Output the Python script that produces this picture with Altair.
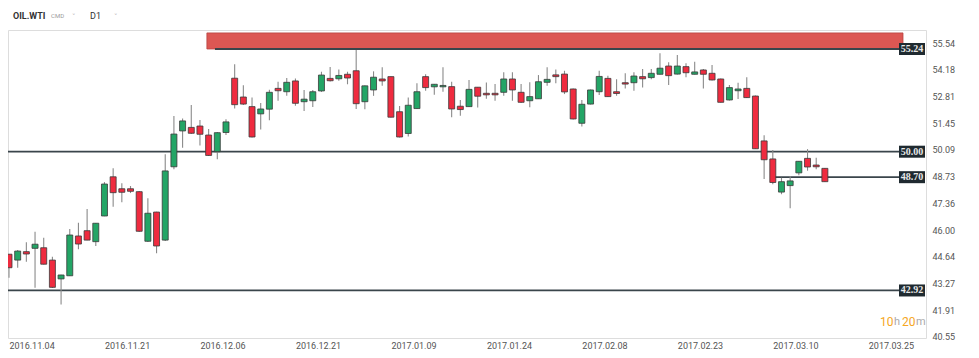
import altair as alt
import pandas as pd

# ---- data (daily OIL.WTI candles) ----
opens = [44.77, 44.47, 44.90, 45.07, 45.10, 44.47, 43.51, 43.67, 45.70, 45.97,
         45.41, 46.72, 48.72, 48.11, 48.11, 47.96, 45.43, 46.92, 45.49, 49.23,
         51.06, 51.24, 51.31, 50.85, 50.00, 50.98, 53.75, 52.79, 52.30, 51.93,
         52.17, 53.23, 53.06, 53.61, 52.55, 52.60, 53.10, 53.74, 53.72, 53.95,
         54.13, 52.55, 53.15, 53.71, 53.83, 52.04, 50.93, 52.20, 53.83, 53.31,
         53.31, 53.32, 52.32, 52.30, 53.29, 52.98, 52.98, 53.03, 53.71, 53.03,
         52.60, 52.70, 53.54, 53.92, 53.96, 53.20, 51.45, 52.43, 53.06, 53.74,
         53.06, 53.52, 53.52, 53.83, 53.78, 53.95, 54.37, 53.96, 54.34, 53.95,
         54.17, 54.00, 53.71, 52.64, 53.11, 53.23, 52.84, 50.55, 49.63, 47.94,
         48.27, 48.92, 49.66, 49.32, 49.15]
highs = [44.78, 44.98, 45.38, 45.92, 45.61, 44.64, 43.72, 46.06, 46.38, 47.08,
         46.36, 48.45, 49.15, 48.39, 48.25, 47.99, 47.62, 46.93, 49.87, 51.82,
         51.70, 52.38, 51.62, 51.16, 51.01, 51.65, 54.46, 53.39, 52.77, 52.48,
         53.16, 53.57, 53.76, 53.73, 53.15, 53.15, 54.08, 54.32, 54.20, 54.08,
         55.19, 53.38, 54.10, 54.31, 53.84, 52.33, 52.77, 53.49, 53.95, 53.45,
         54.31, 53.57, 52.64, 53.66, 53.30, 53.53, 53.45, 54.05, 54.05, 53.45,
         53.54, 53.91, 54.31, 54.20, 54.13, 53.22, 52.64, 53.17, 54.13, 53.88,
         53.69, 54.00, 54.05, 54.22, 54.22, 55.02, 54.56, 54.93, 54.51, 54.59,
         54.22, 54.42, 53.73, 53.40, 53.52, 53.80, 52.87, 50.84, 50.09, 48.67,
         48.76, 49.53, 50.13, 49.69, 49.17]
lows = [43.57, 44.08, 44.39, 43.06, 44.24, 43.05, 42.21, 43.66, 45.02, 45.48,
        45.19, 46.71, 47.19, 47.42, 47.89, 45.90, 45.39, 44.82, 45.44, 49.10,
        50.20, 50.90, 50.31, 49.78, 49.61, 50.85, 52.21, 52.38, 50.72, 51.13,
        51.60, 52.60, 52.86, 52.35, 52.08, 52.28, 53.05, 53.58, 53.62, 53.44,
        52.18, 52.17, 52.85, 53.37, 51.75, 50.72, 50.78, 52.18, 53.11, 52.91,
        53.06, 51.76, 51.83, 52.28, 52.26, 52.70, 52.60, 52.85, 52.60, 52.48,
        52.27, 52.69, 53.37, 53.49, 52.94, 51.64, 51.28, 52.41, 52.89, 52.79,
        52.86, 53.23, 53.11, 53.27, 53.69, 53.94, 53.40, 53.94, 53.80, 53.94,
        53.23, 53.63, 52.51, 52.61, 52.69, 52.74, 50.14, 48.61, 48.34, 47.83,
        47.11, 48.80, 49.03, 49.11, 48.45]
closes = [44.08, 44.93, 44.78, 45.28, 44.26, 43.08, 43.71, 45.75, 45.29, 45.49,
          46.35, 48.35, 47.91, 47.93, 47.98, 45.94, 46.86, 45.19, 49.02, 50.90,
          51.57, 50.94, 50.89, 49.81, 50.97, 51.52, 52.40, 52.43, 50.75, 52.18,
          53.03, 53.11, 53.54, 52.47, 52.68, 53.06, 53.91, 53.62, 53.89, 53.76,
          52.45, 53.36, 53.80, 53.61, 51.76, 50.75, 52.37, 53.06, 53.27, 53.44,
          53.38, 52.18, 52.15, 53.18, 52.83, 52.90, 52.90, 53.71, 53.15, 52.52,
          52.81, 53.57, 53.69, 53.83, 53.05, 51.67, 52.42, 53.15, 53.84, 52.81,
          52.97, 53.45, 53.86, 53.72, 54.00, 54.26, 53.88, 54.37, 54.03, 54.07,
          53.95, 53.66, 52.52, 53.27, 53.20, 52.76, 50.15, 49.59, 48.43, 48.47,
          48.51, 49.51, 49.22, 49.23, 48.47]

date_labels = ["2016.11.04", "2016.11.21", "2016.12.06", "2016.12.21", "2017.01.09",
               "2017.01.24", "2017.02.08", "2017.02.23", "2017.03.10", "2017.03.25"]
date_label_index = [1, 12, 23, 34, 45, 56, 67, 78, 89, 100]
price_ticks = [40.55, 41.91, 43.27, 44.64, 46.00, 47.36, 48.73, 50.09,
               51.45, 52.81, 54.18, 55.54]

levels = [55.24, 50.00, 48.70, 42.92]
level_start = [24.73, 0.885, 89.0, 0.885]

zone_low = [55.24]
zone_high = [56.06]
zone_start = [23.8]
zone_end = [104.0]

# ---- tables ----
n = len(opens)
candles = pd.DataFrame({
    "idx": list(range(1, n + 1)),
    "open": opens, "high": highs, "low": lows, "close": closes,
})
candles["dir"] = ["up" if c >= o else "down" for o, c in zip(opens, closes)]

lev = pd.DataFrame({"level": levels, "start": level_start})
zone = pd.DataFrame({"low": zone_low, "high": zone_high, "start": zone_start, "end": zone_end})

X_DOMAIN = [0.885, 106.65]
Y_DOMAIN = [40.495, 56.209]
W, H = 918, 308

xscale = alt.Scale(domain=X_DOMAIN, nice=False, zero=False, padding=0)
yscale = alt.Scale(domain=Y_DOMAIN, nice=False, zero=False, padding=0)

label_expr = " : ".join(
    f"datum.value == {i} ? '{d}'" for i, d in zip(date_label_index, date_labels)
) + " : ''"

FONT = "Roboto"

xaxis = alt.Axis(values=date_label_index, labelExpr=label_expr, labelAlign="left",
                 labelFontSize=9, labelColor="#555555", labelFont=FONT,
                 ticks=False, domain=False, grid=False, labelPadding=3, title=None,
                 labelOverlap=False, labelFlush=False)
yaxis = alt.Axis(values=price_ticks, format=".2f", orient="right",
                 labelFontSize=9, labelColor="#555555", labelFont=FONT,
                 ticks=False, domain=False, grid=False, labelPadding=6, title=None,
                 labelOverlap=False, labelFlush=False)

base = alt.Chart(candles)

zone_layer = alt.Chart(zone).mark_rect(color="#dc5753", stroke="#b84440", strokeWidth=0.8).encode(
    x=alt.X("start:Q", scale=xscale, axis=xaxis),
    x2="end:Q",
    y=alt.Y("low:Q", scale=yscale, axis=yaxis),
    y2="high:Q",
)

level_lines = alt.Chart(lev).mark_rule(color="#3a454b", strokeWidth=1.8).encode(
    x=alt.X("start:Q", scale=xscale, axis=xaxis),
    x2=alt.value(891),
    y=alt.Y("level:Q", scale=yscale, axis=yaxis),
)

wicks = base.mark_rule(color="#8a8a8a", strokeWidth=1.1).encode(
    x=alt.X("idx:Q", scale=xscale, axis=xaxis),
    y=alt.Y("low:Q", scale=yscale, axis=yaxis),
    y2="high:Q",
)

bodies = base.mark_bar(size=6, stroke="#3a3a3a", strokeWidth=0.8).encode(
    x=alt.X("idx:Q", scale=xscale, axis=xaxis),
    y=alt.Y("open:Q", scale=yscale, axis=yaxis),
    y2="close:Q",
    color=alt.Color("dir:N", scale=alt.Scale(domain=["up", "down"],
                                             range=["#23a566", "#ef2b3f"]), legend=None),
)

label_boxes = alt.Chart(lev).mark_rect(color="#1f2a30", yOffset=-6, y2Offset=6).encode(
    x=alt.value(891), x2=alt.value(917),
    y=alt.Y("level:Q", scale=yscale, axis=yaxis), y2="level:Q",
)
label_text = alt.Chart(lev).mark_text(color="#e8e8e8", font="Liberation Serif",
                                      fontWeight="bold", fontSize=10, align="center",
                                      baseline="middle").encode(
    x=alt.value(904), y=alt.Y("level:Q", scale=yscale, axis=yaxis),
    text=alt.Text("level:Q", format=".2f"),
)

def txt(s, x, y, size, color, weight="normal", font=FONT):
    return alt.Chart(pd.DataFrame({"t": [s]})).mark_text(
        align="left", baseline="middle", fontSize=size, color=color,
        fontWeight=weight, font=font).encode(
        x=alt.value(x), y=alt.value(y), text="t:N")

header = [
    txt("OIL.WTI", 5, -14, 9, "#333333", "bold"),
    txt("CMD", 43, -14, 6, "#9a9a9a"),
    txt("˅", 64, -13, 7, "#b0b0b0", font="DejaVu Sans"),
    txt("D1", 82, -14, 9, "#333333"),
    txt("˅", 106, -13, 7, "#b0b0b0", font="DejaVu Sans"),
    txt("10", 872, 292, 12, "#f5a623"),
    txt("h", 886, 292, 11, "#aaaaaa"),
    txt("20", 894, 292, 12, "#f5a623"),
    txt("m", 908, 292, 11, "#aaaaaa"),
]

chart = alt.layer(
    zone_layer, level_lines, wicks, bodies, label_boxes, label_text, *header
).properties(
    width=W, height=H,
    autosize=alt.AutoSizeParams(type="none"),
    padding={"left": 0, "top": 22, "right": 45, "bottom": 14},
).configure_view(stroke=None).configure_axis(labelOverlap=False).configure(background="white")

chart.save("out.html", embed_options={"renderer": "svg", "actions": False})
